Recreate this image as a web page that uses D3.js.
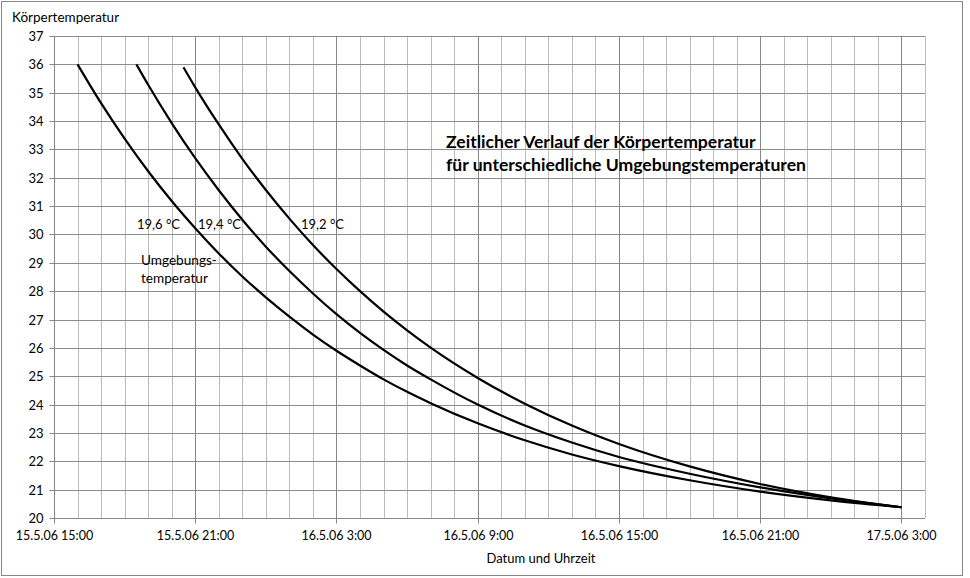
<!DOCTYPE html>
<html><head><meta charset="utf-8">
<script src="https://cdn.jsdelivr.net/npm/d3@7"></script>
<style>
html,body{margin:0;padding:0;background:#fff;}
svg{display:block;font-family:Lato,"Open Sans",sans-serif;}
</style></head>
<body>
<svg id="c" width="970" height="578"></svg>
<script>
// ---------- data ----------
const xDomain = ["2006-05-15 15:00", "2006-05-17 04:00"];
const xTickTimes = ["2006-05-15 15:00","2006-05-15 21:00","2006-05-16 03:00","2006-05-16 09:00","2006-05-16 15:00","2006-05-16 21:00","2006-05-17 03:00"];
const yTicks = [20,21,22,23,24,25,26,27,28,29,30,31,32,33,34,35,36,37];

const times196 = ["2006-05-15 16:00","2006-05-15 17:00","2006-05-15 18:00","2006-05-15 19:00","2006-05-15 20:00","2006-05-15 21:00","2006-05-15 22:00","2006-05-15 23:00","2006-05-16 00:00","2006-05-16 01:00","2006-05-16 02:00","2006-05-16 03:00","2006-05-16 04:00","2006-05-16 05:00","2006-05-16 06:00","2006-05-16 07:00","2006-05-16 09:00","2006-05-16 11:00","2006-05-16 13:00","2006-05-16 15:00","2006-05-16 18:00","2006-05-16 21:00","2006-05-17 00:00","2006-05-17 03:00"];
const temps196 = [36.00,34.63,33.38,32.23,31.18,30.22,29.33,28.52,27.78,27.10,26.47,25.90,25.38,24.89,24.45,24.05,23.34,22.74,22.24,21.83,21.33,20.93,20.62,20.38];

const times194 = ["2006-05-15 18:30","2006-05-15 19:00","2006-05-15 20:00","2006-05-15 21:00","2006-05-15 22:00","2006-05-15 23:00","2006-05-16 00:00","2006-05-16 01:00","2006-05-16 02:00","2006-05-16 03:00","2006-05-16 04:00","2006-05-16 05:00","2006-05-16 06:00","2006-05-16 07:00","2006-05-16 09:00","2006-05-16 11:00","2006-05-16 13:00","2006-05-16 15:00","2006-05-16 18:00","2006-05-16 21:00","2006-05-17 00:00","2006-05-17 03:00"];
const temps194 = [36.00,35.28,33.93,32.69,31.56,30.52,29.57,28.71,27.92,27.19,26.53,25.93,25.38,24.89,24.00,23.26,22.66,22.15,21.56,21.08,20.69,20.38];

const times192 = ["2006-05-15 20:30","2006-05-15 21:00","2006-05-15 22:00","2006-05-15 23:00","2006-05-16 00:00","2006-05-16 01:00","2006-05-16 02:00","2006-05-16 03:00","2006-05-16 04:00","2006-05-16 05:00","2006-05-16 06:00","2006-05-16 07:00","2006-05-16 09:00","2006-05-16 11:00","2006-05-16 13:00","2006-05-16 15:00","2006-05-16 18:00","2006-05-16 21:00","2006-05-17 00:00","2006-05-17 03:00"];
const temps192 = [35.90,35.19,33.88,32.67,31.57,30.56,29.63,28.78,28.00,27.28,26.62,26.01,24.94,24.03,23.26,22.61,21.82,21.20,20.73,20.38];

const seriesLabels = ["19,6 °C","19,4 °C","19,2 °C"];
const titleLines = ["Zeitlicher Verlauf der Körpertemperatur","für unterschiedliche Umgebungstemperaturen"];
const yTitle = "Körpertemperatur";
const xTitle = "Datum und Uhrzeit";
const noteLines = ["Umgebungs-","temperatur"];

// ---------- drawing ----------
const parse = d3.timeParse("%Y-%m-%d %H:%M");
const fmt = d3.timeFormat("%-d.%-m.%y %-H:%M");
const svg = d3.select("#c");
const L = 54, R = 925, T = 36, B = 518;

const x = d3.scaleTime().domain(xDomain.map(parse)).range([L, R]);
const y = d3.scaleLinear().domain([20, 37]).range([B, T]);
const px = v => Math.round(v) + 0.5;

// outer border
svg.append("rect").attr("x",1.5).attr("y",1.5).attr("width",961).attr("height",574)
  .attr("fill","none").attr("stroke","#868686");

const g = svg.append("g");
const hours = d3.timeHour.range(x.domain()[0], d3.timeHour.offset(x.domain()[1],1));
const majorSet = new Set(xTickTimes.map(s => +parse(s)));
g.selectAll("line.vminor").data(hours.filter(h => !majorSet.has(+h))).join("line")
  .attr("x1", d => px(x(d))).attr("x2", d => px(x(d))).attr("y1", T).attr("y2", B)
  .attr("stroke", "#bcbcbc").attr("stroke-width",1);
g.selectAll("line.h").data(yTicks).join("line")
  .attr("x1", L).attr("x2", R).attr("y1", d => px(y(d))).attr("y2", d => px(y(d)))
  .attr("stroke", "#8c8c8c").attr("stroke-width",1);
g.selectAll("line.vmajor").data(xTickTimes.map(parse)).join("line")
  .attr("x1", d => px(x(d))).attr("x2", d => px(x(d))).attr("y1", T).attr("y2", B)
  .attr("stroke", "#868686").attr("stroke-width",1);

// axes
const yAxis = d3.axisLeft(y).tickValues(yTicks).tickSize(5).tickPadding(6).tickFormat(d3.format("d"));
const ya = svg.append("g").attr("transform", `translate(${px(L)},0)`).call(yAxis);
ya.selectAll(".tick").attr("transform", d => `translate(0,${px(y(d))})`);
ya.selectAll("line").attr("stroke","#868686");
ya.select(".domain").attr("stroke","#868686").attr("d", `M0,${T}V${B+0.5}`);
ya.selectAll("text").attr("font-size",13).attr("fill","#000").attr("font-family","Lato");

const xAxis = d3.axisBottom(x).tickValues(xTickTimes.map(parse)).tickSize(5).tickPadding(8).tickFormat(fmt);
const xa = svg.append("g").attr("transform", `translate(0,${px(B)})`).call(xAxis);
xa.selectAll(".tick").attr("transform", d => `translate(${px(x(d))},0)`);
xa.selectAll("line").attr("stroke","#868686");
xa.select(".domain").attr("stroke","#868686").attr("d", `M${L},0H${R}`);
xa.selectAll("text").attr("font-size",12.5).attr("fill","#000").attr("font-family","Lato");

// curves
const line = d3.line().x(d => x(d[0])).y(d => y(d[1])).curve(d3.curveMonotoneX);
const allSeries = [[times196,temps196],[times194,temps194],[times192,temps192]];
svg.append("g").selectAll("path").data(allSeries).join("path")
  .attr("d", s => line(s[0].map((t,i) => [parse(t), s[1][i]])))
  .attr("fill","none").attr("stroke","#000").attr("stroke-width",2.2)
  .attr("stroke-linejoin","round");

// titles
svg.append("text").attr("x",12).attr("y",22).attr("font-size",13.5).text(yTitle);
svg.append("text").attr("x",541).attr("y",563).attr("text-anchor","middle").attr("font-size",13).text(xTitle);

const tt = svg.append("g").attr("font-weight","bold").attr("font-size",17.6);
tt.append("text").attr("x",446).attr("y",148).text(titleLines[0]);
tt.append("text").attr("x",446).attr("y",171).text(titleLines[1]);

// series labels
const labPos = [[137,229],[198,229],[301,229]];
svg.append("g").selectAll("text").data(seriesLabels).join("text")
  .attr("x",(d,i)=>labPos[i][0]).attr("y",(d,i)=>labPos[i][1]).attr("font-size",13).text(d=>d);
svg.append("text").attr("x",141).attr("y",265).attr("font-size",13.6).text(noteLines[0]);
svg.append("text").attr("x",141).attr("y",283).attr("font-size",13.6).text(noteLines[1]);
</script>
</body></html>
